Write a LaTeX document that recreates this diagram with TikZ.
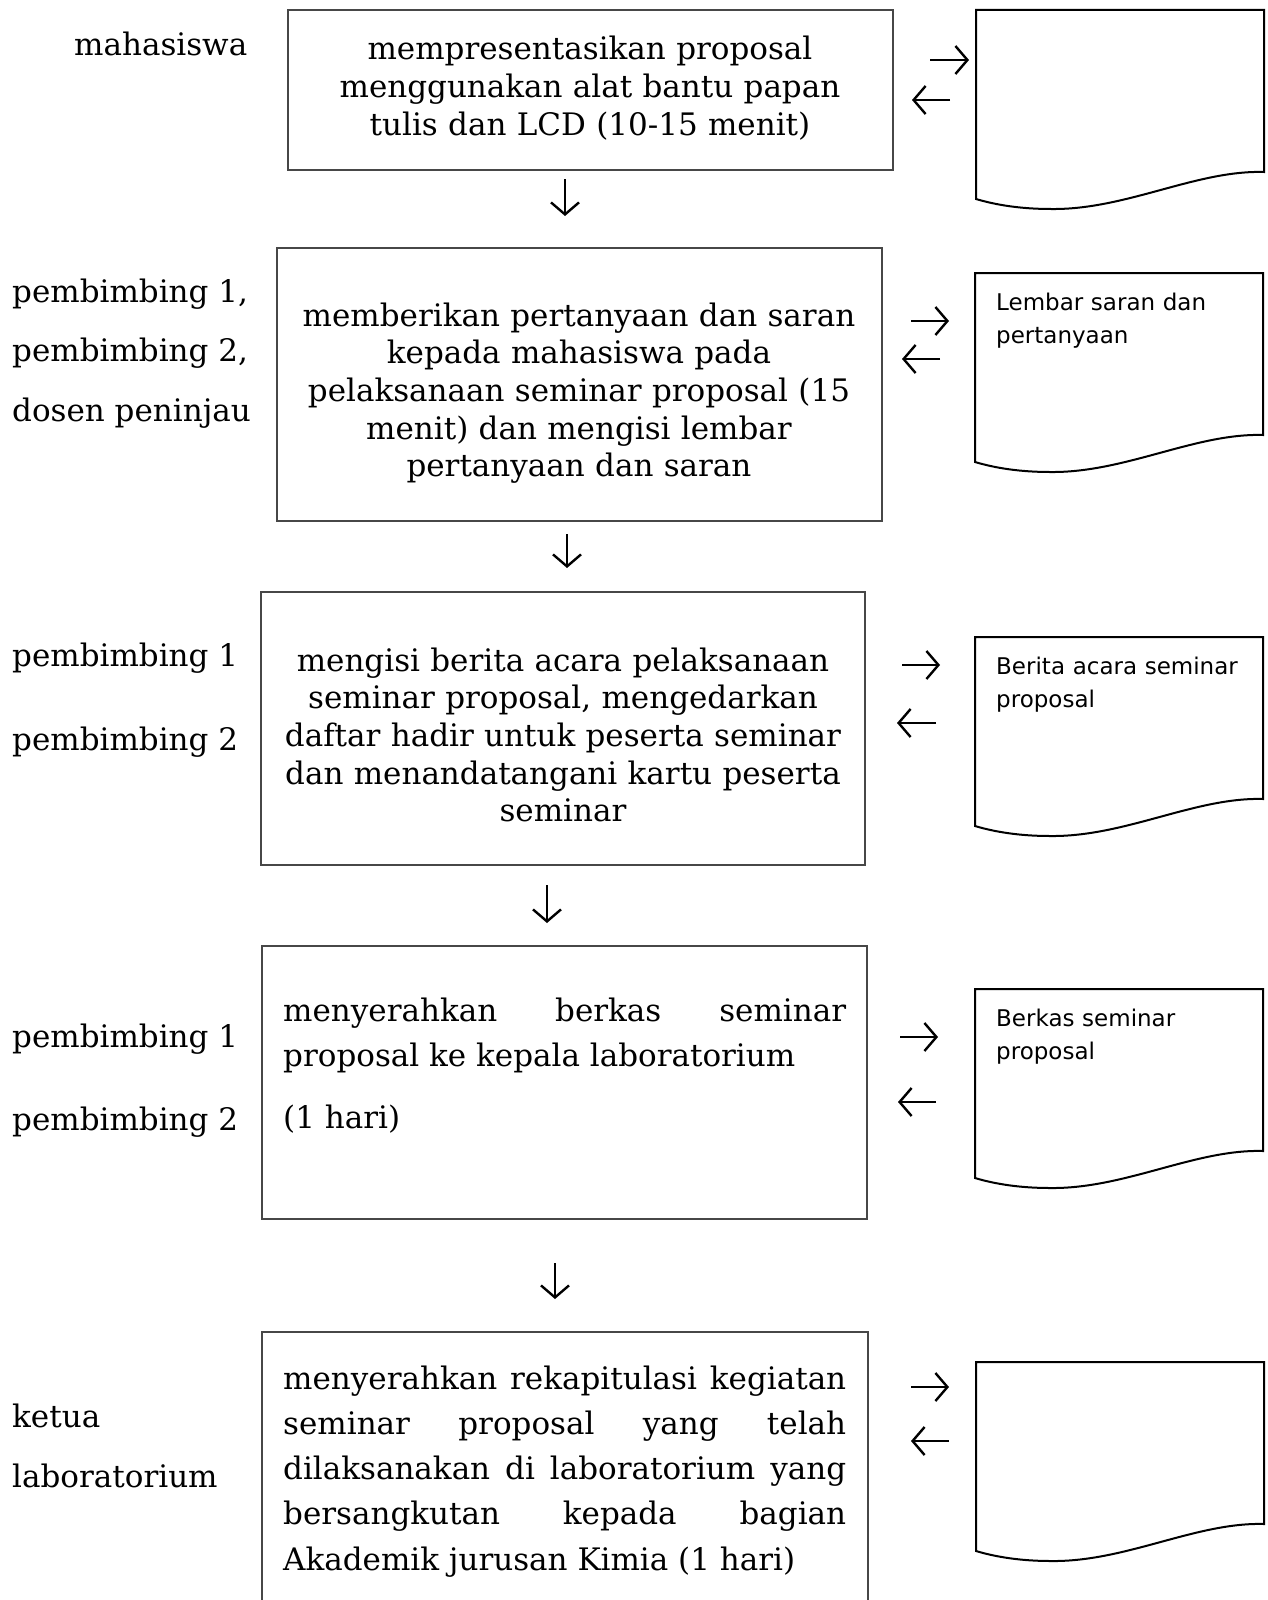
\documentclass[tikz,border=0pt]{standalone}
\usepackage{fontspec}
\setmainfont{DejaVu Serif}
\newfontfamily\docfont{DejaVu Sans}
\usetikzlibrary{arrows.meta}
\begin{document}
\begin{tikzpicture}[x=1pt,y=-1pt,
  box/.style={draw=black!72,line width=1.8pt,inner sep=0pt,outer sep=0pt},
  docline/.style={draw=black,line width=2pt},
  lab/.style={anchor=base west,inner sep=0pt,font=\fontsize{31}{37.7}\selectfont},
  ctxt/.style={anchor=base,inner sep=0pt,align=center,text width=600pt,font=\fontsize{31}{37.7}\selectfont},
  jtxt/.style={anchor=base west,inner sep=0pt,align=justify,text width=563pt,font=\fontsize{31}{45.3}\selectfont},
  dtxt/.style={anchor=base west,inner sep=0pt,align=left,text width=260pt,font=\docfont\fontsize{23}{33}\selectfont},
  flow/.style={line width=2.4pt,-{Straight Barb[length=12pt,width=28pt,line width=2.4pt]}}]
\useasboundingbox (0,0) rectangle (1267,1600);
\clip (0,0) rectangle (1267,1600);

% ---------- process boxes ----------
\node[box,minimum width=605pt,minimum height=160pt] (b1) at (590.5,90) {};
\node[box,minimum width=605pt,minimum height=273pt] (b2) at (579.5,384.5) {};
\node[box,minimum width=604pt,minimum height=273pt] (b3) at (563,728.5) {};
\node[box,minimum width=605pt,minimum height=273pt] (b4) at (564.5,1082.5) {};
\node[box,minimum width=606pt,minimum height=300pt] (b5) at (565,1482) {};

% ---------- box texts ----------
\node[ctxt] (t1) at (590,60) {mempresentasikan proposal\\menggunakan alat bantu papan\\tulis dan LCD (10-15 menit)};
\node[ctxt] (t2) at (579,326) {memberikan pertanyaan dan saran\\kepada mahasiswa pada\\pelaksanaan seminar proposal (15\\menit) dan mengisi lembar\\pertanyaan dan saran};
\node[ctxt] (t3) at (563,671) {mengisi berita acara pelaksanaan\\seminar proposal, mengedarkan\\daftar hadir untuk peserta seminar\\dan menandatangani kartu peserta\\seminar};
\node[jtxt] (t4) at (283,1021) {menyerahkan berkas seminar\linebreak proposal ke kepala laboratorium\\[17pt](1 hari)};
\node[jtxt] (t5) at (283,1389) {menyerahkan rekapitulasi kegiatan\linebreak seminar proposal yang telah\linebreak dilaksanakan di laboratorium yang\linebreak bersangkutan kepada bagian\linebreak Akademik jurusan Kimia (1 hari)};

% ---------- actor labels ----------
\node[lab] (a1) at (74,56) {mahasiswa};
\node[lab] (a2) at (12,302) {pembimbing 1,};
\node[lab] (a3) at (12,361) {pembimbing 2,};
\node[lab] (a4) at (12,421) {dosen peninjau};
\node[lab] (a5) at (12,666) {pembimbing 1};
\node[lab] (a6) at (12,750) {pembimbing 2};
\node[lab] (a7) at (12,1047) {pembimbing 1};
\node[lab] (a8) at (12,1130) {pembimbing 2};
\node[lab] (a9) at (12,1427) {ketua};
\node[lab] (a10) at (12,1487) {laboratorium};

% ---------- document shapes ----------
\foreach \n/\L/\T in {d1/976/10, d2/975/273, d3/975/637, d4/975/989, d5/976/1362}{
  \coordinate (\n) at (\L,\T);
  \draw[docline,shift={(\L,\T)}] (0,0) -- (288,0) -- (288,162)
     .. controls (220,160) and (150,200) .. (75,199)
     .. controls (45,199) and (20,195) .. (0,189) -- cycle;
}
\node[dtxt] (dt2) at ([shift={(21,37)}]d2) {Lembar saran dan\\pertanyaan};
\node[dtxt] (dt3) at ([shift={(21,37)}]d3) {Berita acara seminar\\proposal};
\node[dtxt] (dt4) at ([shift={(21,37)}]d4) {Berkas seminar\\proposal};

% ---------- arrows ----------
\foreach \n/\xa/\xb/\y in {r1/930/969/60, l1/950/912/100, r2/911/949/321, l2/940/902/359,
  r3/902/940/665, l3/936/897/723, r4/900/938/1037, l4/936/898/1102, r5/911/949/1387, l5/949/911/1441}{
  \coordinate (\n s) at (\xa,\y);
  \coordinate (\n e) at (\xb,\y);
  \draw[flow] (\n s) -- (\n e);
}
\foreach \n/\x/\ya/\yb in {v1/565/179/216, v2/567/534/568, v3/547/885/923, v4/555/1263/1299}{
  \coordinate (\n s) at (\x,\ya);
  \coordinate (\n e) at (\x,\yb);
  \draw[flow] (\n s) -- (\n e);
}
\end{tikzpicture}
\end{document}
